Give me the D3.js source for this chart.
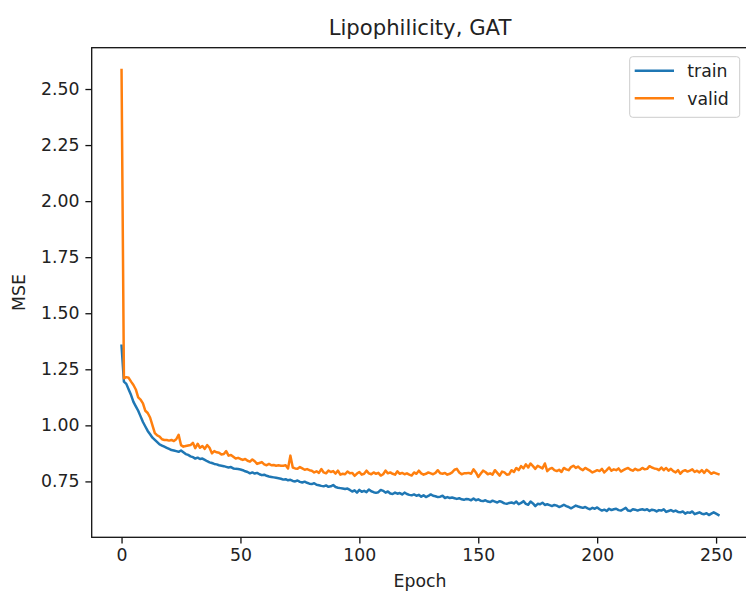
<!DOCTYPE html>
<html>
<head>
<meta charset="utf-8">
<script src="https://cdn.jsdelivr.net/npm/d3@7"></script>
<style>
  body { margin: 0; background: #fff; }
  svg { display: block; font-family: "DejaVu Sans", sans-serif; }
  svg text { fill: #222; }
</style>
</head>
<body>
<div id="chart"></div>
<script>
// values, one per epoch (0..251)
var trainLoss = [
  1.355, 1.195, 1.185, 1.160, 1.135, 1.105, 1.085, 1.065, 1.040, 1.015,
  0.995, 0.975, 0.960, 0.945, 0.935, 0.925, 0.915, 0.910, 0.905, 0.900,
  0.895, 0.890, 0.888, 0.885, 0.882, 0.888, 0.880, 0.872, 0.868, 0.862,
  0.858, 0.852, 0.856, 0.850, 0.852, 0.846, 0.840, 0.835, 0.832, 0.828,
  0.826, 0.822, 0.820, 0.818, 0.815, 0.812, 0.814, 0.808, 0.806, 0.805,
  0.803, 0.800, 0.795, 0.792, 0.786, 0.790, 0.785, 0.788, 0.782, 0.778,
  0.780, 0.775, 0.772, 0.770, 0.768, 0.766, 0.764, 0.762, 0.758, 0.760,
  0.755, 0.757, 0.752, 0.750, 0.754, 0.748, 0.745, 0.749, 0.744, 0.740,
  0.738, 0.742, 0.735, 0.733, 0.730, 0.728, 0.732, 0.726, 0.728, 0.734,
  0.725, 0.722, 0.720, 0.718, 0.716, 0.718, 0.712, 0.705, 0.710, 0.700,
  0.712, 0.704, 0.708, 0.702, 0.714, 0.706, 0.702, 0.699, 0.702, 0.712,
  0.708, 0.700, 0.705, 0.696, 0.694, 0.700, 0.695, 0.698, 0.692, 0.700,
  0.694, 0.690, 0.688, 0.692, 0.686, 0.690, 0.682, 0.688, 0.680, 0.685,
  0.692, 0.686, 0.684, 0.680, 0.682, 0.686, 0.676, 0.680, 0.676, 0.678,
  0.675, 0.672, 0.675, 0.670, 0.668, 0.672, 0.670, 0.666, 0.674, 0.666,
  0.670, 0.664, 0.662, 0.666, 0.660, 0.658, 0.664, 0.660, 0.656, 0.662,
  0.658, 0.652, 0.650, 0.654, 0.656, 0.652, 0.660, 0.648, 0.654, 0.662,
  0.650, 0.646, 0.660, 0.652, 0.640, 0.650, 0.648, 0.655, 0.645, 0.648,
  0.644, 0.640, 0.645, 0.642, 0.636, 0.640, 0.646, 0.640, 0.636, 0.630,
  0.636, 0.642, 0.638, 0.635, 0.632, 0.636, 0.630, 0.626, 0.632, 0.628,
  0.634, 0.626, 0.620, 0.624, 0.618, 0.628, 0.622, 0.626, 0.628, 0.622,
  0.620, 0.626, 0.632, 0.620, 0.618, 0.626, 0.624, 0.620, 0.624, 0.626,
  0.622, 0.626, 0.618, 0.624, 0.622, 0.616, 0.622, 0.620, 0.626, 0.614,
  0.618, 0.622, 0.616, 0.620, 0.614, 0.612, 0.616, 0.606, 0.612, 0.610,
  0.616, 0.604, 0.608, 0.612, 0.606, 0.604, 0.608, 0.600, 0.606, 0.612,
  0.606, 0.600
];

var validLoss = [
  2.585, 1.210, 1.215, 1.212, 1.195, 1.180, 1.160, 1.125, 1.115, 1.098,
  1.065, 1.055, 1.035, 1.000, 0.965, 0.955, 0.950, 0.938, 0.935, 0.935,
  0.932, 0.935, 0.930, 0.938, 0.958, 0.912, 0.905, 0.908, 0.910, 0.912,
  0.922, 0.898, 0.918, 0.900, 0.908, 0.895, 0.912, 0.900, 0.875, 0.885,
  0.880, 0.878, 0.870, 0.872, 0.885, 0.865, 0.868, 0.860, 0.852, 0.855,
  0.850, 0.846, 0.850, 0.842, 0.838, 0.848, 0.840, 0.828, 0.832, 0.836,
  0.826, 0.822, 0.828, 0.822, 0.823, 0.820, 0.822, 0.820, 0.820, 0.822,
  0.808, 0.865, 0.812, 0.808, 0.806, 0.814, 0.808, 0.802, 0.805, 0.800,
  0.798, 0.790, 0.795, 0.788, 0.805, 0.790, 0.786, 0.798, 0.792, 0.796,
  0.785, 0.798, 0.780, 0.784, 0.782, 0.794, 0.786, 0.788, 0.775, 0.785,
  0.792, 0.780, 0.784, 0.798, 0.786, 0.782, 0.790, 0.784, 0.788, 0.776,
  0.782, 0.798, 0.786, 0.790, 0.784, 0.780, 0.795, 0.784, 0.788, 0.782,
  0.786, 0.780, 0.776, 0.790, 0.784, 0.798, 0.786, 0.780, 0.784, 0.790,
  0.786, 0.782, 0.788, 0.800, 0.786, 0.784, 0.788, 0.780, 0.784, 0.790,
  0.802, 0.806, 0.790, 0.782, 0.786, 0.786, 0.788, 0.784, 0.804, 0.790,
  0.770, 0.784, 0.798, 0.792, 0.782, 0.786, 0.780, 0.800, 0.788, 0.776,
  0.794, 0.790, 0.780, 0.782, 0.800, 0.792, 0.810, 0.800, 0.818, 0.808,
  0.826, 0.812, 0.830, 0.818, 0.806, 0.820, 0.814, 0.808, 0.830, 0.796,
  0.806, 0.810, 0.800, 0.796, 0.802, 0.792, 0.810, 0.804, 0.800, 0.814,
  0.820, 0.810, 0.816, 0.806, 0.800, 0.810, 0.804, 0.798, 0.790, 0.795,
  0.800, 0.796, 0.806, 0.790, 0.800, 0.812, 0.798, 0.804, 0.800, 0.808,
  0.794, 0.800, 0.806, 0.810, 0.802, 0.798, 0.806, 0.800, 0.802, 0.810,
  0.804, 0.806, 0.818, 0.812, 0.808, 0.806, 0.800, 0.812, 0.800, 0.810,
  0.798, 0.806, 0.796, 0.790, 0.800, 0.784, 0.796, 0.800, 0.794, 0.798,
  0.804, 0.792, 0.798, 0.790, 0.800, 0.788, 0.802, 0.794, 0.784, 0.790,
  0.786, 0.782
];

var seriesNames = ['train', 'valid'];
var seriesColors = ['#1f77b4', '#ff7f0e'];
var xTicks = [0, 50, 100, 150, 200, 250];
var yTicks = [0.75, 1.00, 1.25, 1.50, 1.75, 2.00, 2.25, 2.50];
var titleText = 'Lipophilicity, GAT';
var xLabelText = 'Epoch';
var yLabelText = 'MSE';

var width = 746;
var height = 594;
var margin = { left: 91.7, top: 47.7, right: -2.3, bottom: 56.7 };
var plotW = width - margin.left - margin.right;
var plotH = height - margin.top - margin.bottom;

var svg = d3.select('#chart').append('svg')
    .attr('width', width)
    .attr('height', height);

// matplotlib-style 5% padding around the data range
var n = trainLoss.length;
var xPad = (n - 1) * 0.05;
var allVals = trainLoss.concat(validLoss);
var yMin = d3.min(allVals), yMax = d3.max(allVals);
var yPad = (yMax - yMin) * 0.05;

var x = d3.scaleLinear()
    .domain([-xPad, n - 1 + xPad])
    .range([margin.left, margin.left + plotW]);
var y = d3.scaleLinear()
    .domain([yMin - yPad, yMax + yPad])
    .range([margin.top + plotH, margin.top]);

var line = d3.line()
    .x(function (d, i) { return x(i); })
    .y(function (d) { return y(d); });

[trainLoss, validLoss].forEach(function (s, k) {
    svg.append('path')
        .datum(s)
        .attr('fill', 'none')
        .attr('stroke', seriesColors[k])
        .attr('stroke-width', 2.5)
        .attr('stroke-linejoin', 'round')
        .attr('stroke-linecap', 'square')
        .attr('d', line);
});

var xAxis = d3.axisBottom(x).tickValues(xTicks).tickSize(6.3).tickPadding(5.5)
    .tickFormat(d3.format('d'));
var yAxis = d3.axisLeft(y).tickValues(yTicks).tickSize(6.3).tickPadding(6)
    .tickFormat(d3.format('.2f'));

var gx = svg.append('g')
    .attr('transform', 'translate(0,' + (margin.top + plotH) + ')')
    .call(xAxis);
var gy = svg.append('g')
    .attr('transform', 'translate(' + margin.left + ',0)')
    .call(yAxis);

[gx, gy].forEach(function (g) {
    g.select('.domain').remove();
    g.selectAll('.tick line').attr('stroke', '#111').attr('stroke-width', 1.3);
    g.selectAll('.tick text')
        .attr('fill', '#222')
        .style('font-size', '17.3px')
        .style('font-family', '"DejaVu Sans", sans-serif');
});

// frame
svg.append('rect')
    .attr('x', margin.left)
    .attr('y', margin.top)
    .attr('width', plotW)
    .attr('height', plotH)
    .attr('fill', 'none')
    .attr('stroke', '#111')
    .attr('stroke-width', 1.3);

svg.append('text')
    .attr('x', (margin.left + margin.left + plotW) / 2)
    .attr('y', 35)
    .attr('text-anchor', 'middle')
    .style('font-size', '21.2px')
    .text(titleText);

svg.append('text')
    .attr('x', (margin.left + margin.left + plotW) / 2)
    .attr('y', 587)
    .attr('text-anchor', 'middle')
    .style('font-size', '17.3px')
    .text(xLabelText);

svg.append('text')
    .attr('transform', 'translate(25,' + (margin.top + plotH / 2) + ') rotate(-90)')
    .attr('text-anchor', 'middle')
    .style('font-size', '17.3px')
    .text(yLabelText);

// legend
var legend = svg.append('g').attr('transform', 'translate(629.7,56.7)');
legend.append('rect')
    .attr('width', 110)
    .attr('height', 60.6)
    .attr('rx', 3)
    .attr('fill', '#fff')
    .attr('fill-opacity', 0.8)
    .attr('stroke', '#ccc')
    .attr('stroke-width', 1);
seriesNames.forEach(function (name, i) {
    var ly = 14 + i * 27.6;
    legend.append('line')
        .attr('x1', 5).attr('x2', 44.3)
        .attr('y1', ly).attr('y2', ly)
        .attr('stroke', seriesColors[i])
        .attr('stroke-width', 2.5);
    legend.append('text')
        .attr('x', 57.6)
        .attr('y', ly + 6.3)
        .style('font-size', '17.3px')
        .text(name);
});
</script>
</body>
</html>
